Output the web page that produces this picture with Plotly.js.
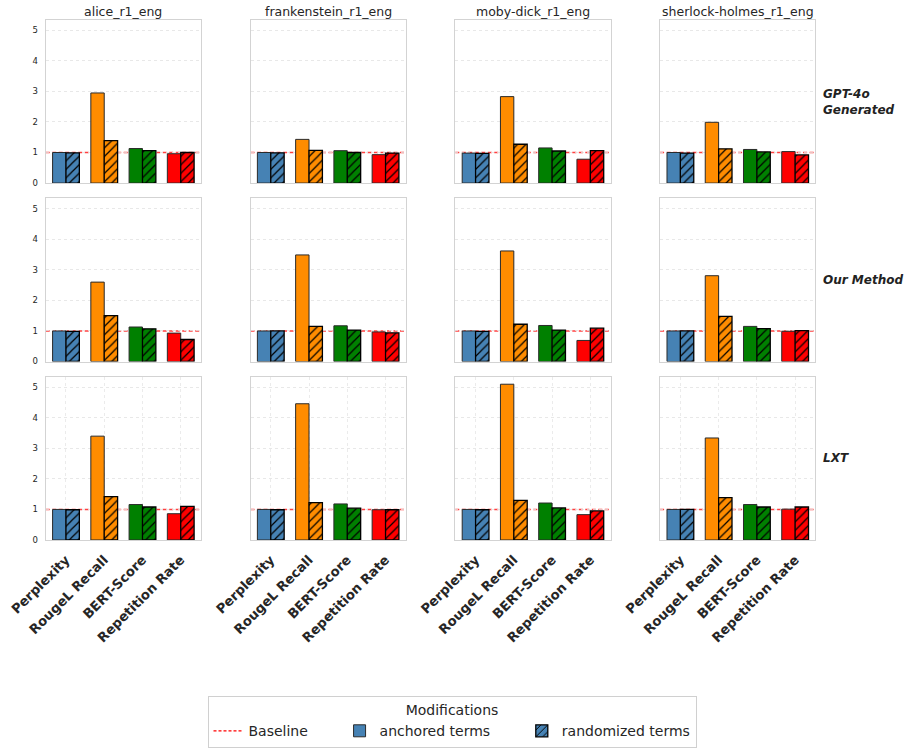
<!DOCTYPE html>
<html>
<head>
<meta charset="utf-8">
<script src="https://cdn.plot.ly/plotly-3.0.1.min.js"></script>
<style>html,body{margin:0;padding:0;background:#fff;}#chart{width:913px;height:748px;}</style>
</head>
<body>
<div id="chart"></div>
<script>
// ---- data ----
const categories = ['Perplexity', 'RougeL Recall', 'BERT-Score', 'Repetition Rate'];
const books = ['alice_r1_eng', 'frankenstein_r1_eng', 'moby-dick_r1_eng', 'sherlock-holmes_r1_eng'];
const methods = ['GPT-4o<br>Generated', 'Our Method', 'LXT'];
const metricColors = ['#4682B4', '#FF8C00', '#008000', '#FF0000'];
const baseline = 1;
const yTicks = [0, 1, 2, 3, 4, 5];

// rows: book order alice, frankenstein, moby-dick, sherlock-holmes; values per metric
const gpt4oAnchored = [
  [1.00, 2.95, 1.13, 0.96],
  [1.00, 1.43, 1.06, 0.93],
  [0.98, 2.83, 1.15, 0.78],
  [1.00, 1.99, 1.10, 1.03]
];
const gpt4oRandomized = [
  [0.99, 1.39, 1.06, 1.00],
  [0.99, 1.07, 1.00, 0.98],
  [0.97, 1.27, 1.05, 1.06],
  [0.98, 1.12, 1.02, 0.92]
];
const oursAnchored = [
  [1.00, 2.60, 1.13, 0.93],
  [1.00, 3.49, 1.17, 0.97],
  [1.00, 3.62, 1.18, 0.69],
  [1.00, 2.81, 1.15, 0.99]
];
const oursRandomized = [
  [0.99, 1.50, 1.07, 0.72],
  [1.00, 1.15, 1.03, 0.94],
  [0.99, 1.22, 1.03, 1.09],
  [1.00, 1.48, 1.08, 1.01]
];
const lxtAnchored = [
  [1.00, 3.40, 1.16, 0.86],
  [1.00, 4.46, 1.18, 0.99],
  [1.00, 5.10, 1.21, 0.83],
  [1.00, 3.34, 1.16, 1.01]
];
const lxtRandomized = [
  [0.99, 1.42, 1.08, 1.10],
  [0.99, 1.22, 1.04, 0.99],
  [0.99, 1.30, 1.05, 0.95],
  [1.00, 1.39, 1.08, 1.08]
];
const anchoredByMethod = [gpt4oAnchored, oursAnchored, lxtAnchored];
const randomizedByMethod = [gpt4oRandomized, oursRandomized, lxtRandomized];

// ---- layout geometry (px) ----
const W = 913, H = 748;
const colLeft0 = 45.7, colStep = 204.8, colW = 155.3;
const rowTop0 = 20, rowStep = 178.7, rowH = 163.3;
const FONT = 'DejaVu Sans, sans-serif';
const textCol = '#262626';
const pad = '\u00A0\u00A0\u00A0\u00A0\u00A0\u00A0';
const barW = 0.35;

const traces = [];
const layout = {
  width: W, height: H,
  margin: {l: 0, r: 0, t: 0, b: 0},
  paper_bgcolor: '#fff', plot_bgcolor: '#fff',
  barmode: 'overlay',
  font: {family: FONT, color: textCol},
  showlegend: true,
  legend: {
    orientation: 'h', x: 452 / W, xanchor: 'center', y: 1 - 697 / H, yanchor: 'top',
    bordercolor: '#d0d0d0', borderwidth: 1, bgcolor: '#fff',
    font: {family: FONT, size: 14, color: textCol},
    title: {text: 'Modifications', side: 'top center', font: {family: FONT, size: 14, color: textCol}},
    traceorder: 'normal', itemwidth: 30
  },
  shapes: [], annotations: []
};

// legend-only baseline entry (single point in line mode draws nothing)
traces.push({
  type: 'scatter', mode: 'lines', x: [categories[0]], y: [baseline],
  xaxis: 'x', yaxis: 'y', name: 'Baseline' + pad, showlegend: true, hoverinfo: 'skip',
  line: {color: 'red', width: 1.3, dash: '3px,2px'}
});

for (let r = 0; r < methods.length; r++) {
  for (let c = 0; c < books.length; c++) {
    const k = r * books.length + c + 1;
    const xa = 'x' + (k === 1 ? '' : k), ya = 'y' + (k === 1 ? '' : k);
    const x0 = (colLeft0 + c * colStep) / W, x1 = (colLeft0 + c * colStep + colW) / W;
    const yTop = rowTop0 + r * rowStep, yBot = yTop + rowH;

    for (let i = 0; i < categories.length; i++) {
      const first = (k === 1 && i === 0);
      traces.push({
        type: 'bar', x: [categories[i]], y: [anchoredByMethod[r][c][i]], xaxis: xa, yaxis: ya,
        offset: -barW, width: barW,
        name: 'anchored terms' + pad, legendgroup: 'anchored', showlegend: first,
        marker: {color: metricColors[i], line: {color: '#2a2a2a', width: 1}}
      });
      traces.push({
        type: 'bar', x: [categories[i]], y: [randomizedByMethod[r][c][i]], xaxis: xa, yaxis: ya,
        offset: 0, width: barW,
        name: 'randomized terms', legendgroup: 'randomized', showlegend: first,
        marker: {color: metricColors[i], line: {color: '#000', width: 1.3},
                 pattern: {shape: '/', fgcolor: '#000', fillmode: 'overlay', fgopacity: 1, size: 6, solidity: 0.2}}
      });
    }

    const isBottom = (r === methods.length - 1);
    layout['xaxis' + (k === 1 ? '' : k)] = {
      domain: [x0, x1], anchor: ya, type: 'category', categoryorder: 'array', categoryarray: categories,
      range: [-0.53, 3.53], showline: true, mirror: true, linecolor: '#d3d3d3', linewidth: 1,
      showgrid: isBottom, gridcolor: '#e6e6e6', griddash: 'dot', gridwidth: 0.8,
      showticklabels: isBottom, tickangle: -45, ticks: isBottom ? 'outside' : '', ticklen: 6, tickcolor: '#fff',
      tickfont: {family: FONT, size: 13.2, color: textCol, weight: 'bold'},
      zeroline: false, fixedrange: true
    };
    layout['yaxis' + (k === 1 ? '' : k)] = {
      domain: [1 - yBot / H, 1 - yTop / H], anchor: xa, range: [0, 5.34],
      tickvals: yTicks, showline: true, mirror: true, linecolor: '#d3d3d3', linewidth: 1,
      showgrid: true, gridcolor: '#e2e2e2', griddash: 'dot', gridwidth: 0.8, zeroline: false,
      showticklabels: c === 0, ticks: c === 0 ? 'outside' : '', ticklen: 5, tickcolor: '#fff',
      tickfont: {family: FONT, size: 8.5, color: textCol}, fixedrange: true
    };

    layout.shapes.push({
      type: 'line', xref: xa + ' domain', yref: ya, x0: 0, x1: 1, y0: baseline, y1: baseline,
      layer: 'below', line: {color: 'rgba(255,0,0,0.75)', width: 1.5, dash: '4px,2.5px'}
    });

    if (r === 0) {
      layout.annotations.push({
        text: books[c], xref: 'paper', yref: 'paper', x: (x0 + x1) / 2, y: 1 - 12 / H,
        xanchor: 'center', yanchor: 'middle', showarrow: false,
        font: {family: FONT, size: 12.5, color: textCol}
      });
    }
    if (c === books.length - 1) {
      layout.annotations.push({
        text: '<b><i>' + methods[r] + '</i></b>', xref: 'paper', yref: 'paper',
        x: 821 / W, y: 1 - (yTop + rowH / 2) / H, xanchor: 'left', yanchor: 'middle', align: 'left',
        showarrow: false, font: {family: FONT, size: 12, color: '#222'}
      });
    }
  }
}

Plotly.newPlot('chart', traces, layout, {displayModeBar: false, staticPlot: true});
</script>
</body>
</html>
